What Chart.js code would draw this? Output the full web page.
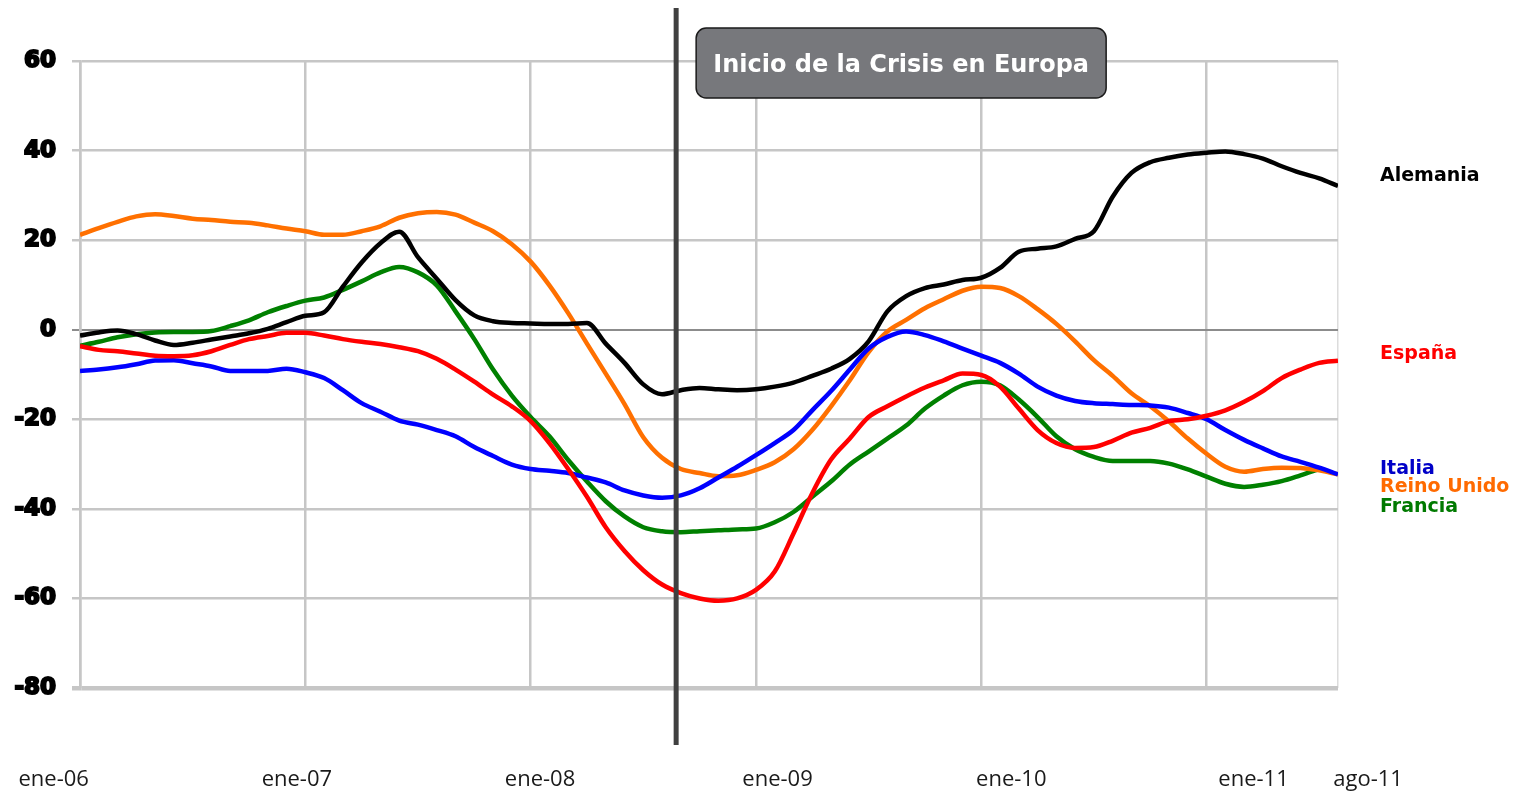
<!DOCTYPE html>
<html lang="es">
<head>
<meta charset="utf-8">
<title>Inicio de la Crisis en Europa</title>
<script src="https://cdn.jsdelivr.net/npm/chart.js@4.4.0/dist/chart.umd.min.js"></script>
<style>
  html, body { margin: 0; padding: 0; background: #fff; }
  #wrap { width: 1528px; height: 793px; }
</style>
</head>
<body>
<div id="wrap"><canvas id="chart" width="1528" height="793"></canvas></div>
<script>
// monthly values, ene-06 (index 0) .. ago-11 (index 67)
const alemania = [
  -1.3, -0.6, -0.2, -1.0, -2.4, -3.4, -2.9, -2.2, -1.5, -0.8, 0.2, 1.7,
  3.1, 3.9, 9.6, 15.0, 19.3, 21.9, 16.2, 11.4, 6.6, 3.2, 1.9, 1.5,
  1.4, 1.3, 1.3, 1.5, -3.1, -7.4, -12.2, -14.4, -13.5, -13.0, -13.3, -13.5,
  -13.3, -12.7, -11.8, -10.3, -8.7, -6.5, -2.6, 4.1, 7.5, 9.3, 10.1, 11.1,
  11.6, 13.8, 17.4, 18.1, 18.6, 20.3, 22.0, 29.7, 35.0, 37.4, 38.4, 39.1,
  39.5, 39.8, 39.2, 38.2, 36.5, 35.0, 33.8, 32.1
];
const espana = [
  -3.7, -4.5, -4.8, -5.3, -5.8, -5.9, -5.7, -4.8, -3.4, -2.1, -1.4, -0.7,
  -0.7, -1.3, -2.1, -2.7, -3.2, -3.9, -4.8, -6.5, -8.9, -11.6, -14.5, -17.1,
  -20.4, -25.3, -31.1, -37.3, -44.1, -49.4, -53.7, -56.9, -58.8, -60.0, -60.5, -60.0,
  -58.1, -54.0, -45.5, -36.5, -29.0, -24.3, -19.5, -17.1, -14.9, -12.9, -11.3, -9.8,
  -10.1, -12.7, -17.6, -22.4, -25.3, -26.4, -26.2, -24.8, -23.0, -21.9, -20.4, -20.0,
  -19.2, -18.0, -16.1, -13.7, -10.8, -8.9, -7.4, -6.9
];
const italia = [
  -9.2, -8.9, -8.4, -7.7, -6.9, -6.8, -7.5, -8.2, -9.2, -9.2, -9.2, -8.7,
  -9.5, -10.8, -13.5, -16.4, -18.3, -20.3, -21.2, -22.4, -23.8, -26.2, -28.2, -30.1,
  -31.1, -31.5, -32.0, -33.0, -34.1, -35.9, -37.0, -37.5, -37.0, -35.4, -33.0, -30.6,
  -28.0, -25.3, -22.4, -18.0, -13.7, -8.9, -4.2, -1.6, -0.4, -1.2, -2.6, -4.2,
  -5.8, -7.4, -9.8, -12.7, -14.7, -15.9, -16.4, -16.6, -16.8, -16.9, -17.4, -18.6,
  -20.0, -22.4, -24.6, -26.5, -28.3, -29.5, -30.8, -32.3
];
const reinoUnido = [
  21.2, 22.7, 24.1, 25.3, 25.8, 25.4, 24.8, 24.5, 24.1, 23.9, 23.3, 22.6,
  22.0, 21.2, 21.2, 22.0, 23.1, 25.0, 26.0, 26.3, 25.7, 23.9, 22.0, 19.1,
  15.2, 9.9, 3.7, -3.1, -9.8, -16.6, -24.0, -28.6, -31.1, -32.0, -32.7, -32.5,
  -31.3, -29.6, -26.7, -22.4, -17.1, -11.3, -5.0, -0.4, 2.2, 4.8, 6.8, 8.7,
  9.6, 9.3, 7.5, 4.6, 1.3, -2.6, -6.8, -10.3, -14.2, -17.1, -20.5, -24.3,
  -27.7, -30.6, -31.7, -31.1, -30.8, -30.9, -31.4, -32.3
];
const francia = [
  -3.6, -2.7, -1.7, -1.0, -0.6, -0.5, -0.5, -0.3, 0.8, 2.1, 3.9, 5.3,
  6.5, 7.2, 8.9, 10.8, 12.8, 14.0, 12.8, 9.9, 4.1, -2.1, -8.9, -14.7,
  -19.5, -23.8, -29.1, -33.9, -38.3, -41.7, -44.1, -45.0, -45.2, -45.0, -44.8, -44.6,
  -44.4, -43.0, -40.7, -37.3, -33.9, -30.1, -27.2, -24.3, -21.4, -17.6, -14.7, -12.4,
  -11.6, -12.4, -15.6, -19.5, -23.8, -26.7, -28.4, -29.3, -29.3, -29.3, -29.9, -31.2,
  -32.8, -34.4, -35.1, -34.6, -33.8, -32.5, -31.1, null
];

const xTickLabels = ['ene-06', 'ene-07', 'ene-08', 'ene-09', 'ene-10', 'ene-11', 'ago-11'];
const xTickMonths = [0, 12, 24, 36, 48, 60, 67];
const crisisMonth = 31.75;
const crisisText = 'Inicio de la Crisis en Europa';

// label placement (in months) as it sits in the original picture
const xLabelShift = [-1.4, -0.45, 0.5, 1.15, 1.6, 2.5, 1.6];

const series = [
  { name: 'Alemania', values: alemania, color: '#000000', labelColor: '#000000', labelAt: 34.4 },
  { name: 'España', values: espana, color: '#ff0000', labelColor: '#ff0000', labelAt: -5.5 },
  { name: 'Italia', values: italia, color: '#0000ff', labelColor: '#0000c8', labelAt: -31.2 },
  { name: 'Reino Unido', values: reinoUnido, color: '#ff7000', labelColor: '#ff6a00', labelAt: -35.2 },
  { name: 'Francia', values: francia, color: '#008000', labelColor: '#007a00', labelAt: -39.7 }
];

const toPoints = arr => arr.map((v, i) => ({ x: i, y: v }));

// vertical crisis line + grey box
const crisisPlugin = {
  id: 'crisis',
  afterDatasetsDraw(chart) {
    const ctx = chart.ctx;
    const x = chart.scales.x.getPixelForValue(crisisMonth);
    ctx.save();
    ctx.strokeStyle = '#404040';
    ctx.lineWidth = 5;
    ctx.beginPath();
    ctx.moveTo(x, 8);
    ctx.lineTo(x, 745);
    ctx.stroke();

    const bx = x + 20, by = 28, bw = 410, bh = 70, r = 10;
    ctx.beginPath();
    ctx.roundRect(bx, by, bw, bh, r);
    ctx.fillStyle = '#77787c';
    ctx.fill();
    ctx.lineWidth = 1.5;
    ctx.strokeStyle = '#1a1a1a';
    ctx.stroke();

    ctx.fillStyle = '#ffffff';
    ctx.font = 'bold 24px "DejaVu Sans", sans-serif';
    ctx.textAlign = 'center';
    ctx.textBaseline = 'middle';
    ctx.fillText(crisisText, bx + bw / 2, by + bh / 2 + 3);
    ctx.restore();
  }
};

// country names at the right of the plot
const endLabels = {
  id: 'endLabels',
  afterDraw(chart) {
    const ctx = chart.ctx;
    const y = chart.scales.y;
    const x0 = chart.chartArea.right + 42;
    ctx.save();
    ctx.font = 'bold 19px "DejaVu Sans", sans-serif';
    ctx.textAlign = 'left';
    ctx.textBaseline = 'middle';
    series.forEach(s => {
      ctx.fillStyle = s.labelColor;
      ctx.fillText(s.name, x0, y.getPixelForValue(s.labelAt));
    });
    ctx.restore();
  }
};

new Chart(document.getElementById('chart'), {
  type: 'line',
  data: {
    datasets: series.map(s => ({
      label: s.name,
      data: toPoints(s.values),
      borderColor: s.color,
      backgroundColor: s.color,
      borderWidth: 4.5,
      pointRadius: 0,
      cubicInterpolationMode: 'monotone',
      fill: false
    }))
  },
  options: {
    responsive: false,
    animation: false,
    layout: { padding: { left: 0, top: 61, right: 190, bottom: 0 } },
    plugins: {
      legend: { display: false },
      tooltip: { enabled: false }
    },
    scales: {
      x: {
        type: 'linear',
        min: 0,
        max: 67,
        afterBuildTicks: s => { s.ticks = xTickMonths.map(v => ({ value: v })); },
        afterFit: s => { s.height = 0; s.paddingLeft = 0; s.paddingRight = 0; },
        ticks: { display: false },
        grid: {
          drawTicks: false,
          color: c => c.tick && c.tick.value === 67 ? '#dcdcdc' : '#c6c6c6',
          lineWidth: c => c.tick && c.tick.value === 67 ? 1.5 : 2.5
        },
        border: { display: false }
      },
      xLab: {
        type: 'linear',
        position: 'bottom',
        min: 0,
        max: 67,
        afterBuildTicks: s => { s.ticks = xTickMonths.map((v, i) => ({ value: v + xLabelShift[i] })); },
        afterFit: s => { s.height = 105; s.paddingLeft = 0; s.paddingRight = 0; },
        ticks: {
          autoSkip: false,
          maxRotation: 0,
          padding: 79,
          color: '#1a1a1a',
          font: { family: '"Open Sans", sans-serif', size: 22 },
          callback: (v, i) => xTickLabels[i]
        },
        grid: { display: false, drawTicks: false },
        border: { display: false }
      },
      y: {
        min: -80,
        max: 60,
        afterFit: s => { s.width = 80; s.paddingTop = 0; s.paddingBottom = 0; },
        ticks: {
          stepSize: 20,
          padding: 16,
          color: '#000',
          textStrokeColor: '#000',
          textStrokeWidth: 2,
          font: { family: '"DejaVu Sans", sans-serif', size: 23, weight: 'bold' }
        },
        grid: {
          tickLength: 8,
          color: c => c.tick.value === 0 ? '#8c8c8c' : '#c6c6c6',
          lineWidth: c => c.tick.value === -80 ? 4.5 : (c.tick.value === 0 ? 2 : 2.5)
        },
        border: { display: true, color: '#c6c6c6', width: 2.5 }
      }
    }
  },
  plugins: [crisisPlugin, endLabels]
});
</script>
</body>
</html>
